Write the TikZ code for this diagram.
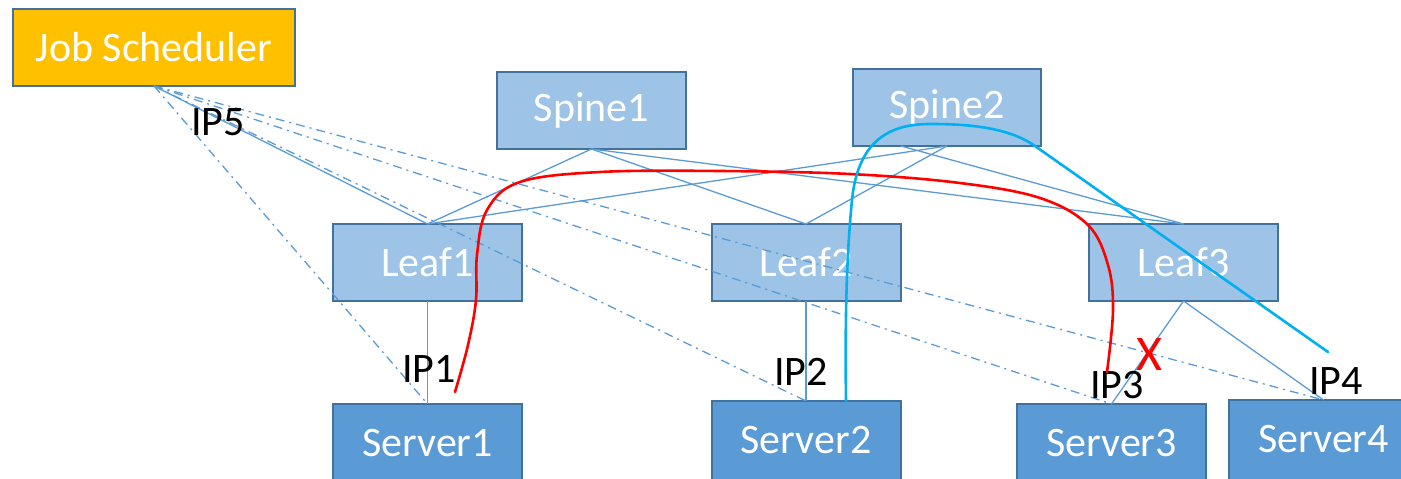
\documentclass[tikz,border=0pt]{standalone}
\usepackage{fontspec}
\setmainfont{Carlito}
\definecolor{jobfill}{HTML}{FFC000}
\definecolor{boxedge}{HTML}{41719C}
\definecolor{switchfill}{HTML}{9DC3E6}
\definecolor{serverfill}{HTML}{5B9BD5}
\definecolor{linkblue}{HTML}{5B9BD5}
\definecolor{pathcyan}{HTML}{00B0F0}
\definecolor{pathred}{HTML}{FF0000}
\begin{document}
\begin{tikzpicture}[x=1pt, y=-1pt,
  box/.style={draw=boxedge, line width=2pt, inner sep=0pt, outer sep=0pt,
    minimum width=189pt, minimum height=77pt, text=white,
    font=\fontsize{42}{50}\selectfont},
  jobbox/.style={box, fill=jobfill, minimum width=282pt},
  switchbox/.style={box, fill=switchfill},
  serverbox/.style={box, fill=serverfill, minimum height=86pt,
    text depth=9pt},
  link/.style={draw=linkblue, line width=1.3pt},
  ctrl/.style={draw=linkblue, line width=1.3pt,
    dash pattern=on 9pt off 5pt on 2pt off 5pt},
  iplabel/.style={inner sep=0pt, font=\fontsize{42}{50}\selectfont},
  flow/.style={line width=2.6pt, line cap=round}]
\useasboundingbox (0,0) rectangle (1401,479);
\clip (0,0) rectangle (1401,479);

% devices (server boxes run past the lower edge)
\node[jobbox]    (js)  at (154,47.5)   {Job Scheduler};
\node[switchbox] (sp1) at (591.5,110.5) {Spine1};
\node[switchbox, minimum width=188pt] (sp2) at (947,107.5) {Spine2};
\node[switchbox] (lf1) at (427.5,262.5) {Leaf1};
\node[switchbox] (lf2) at (806,262.5)   {Leaf2};
\node[switchbox] (lf3) at (1183.5,262.5) {Leaf3};
\node[serverbox] (sv1) at (427.5,447) {Server1};
\node[serverbox] (sv2) at (806,444)   {Server2};
\node[serverbox] (sv3) at (1111.5,447) {Server3};
\node[serverbox] (sv4) at (1323.5,443) {Server4};

% spine-leaf fabric
\draw[link] (sp1.south) -- (lf1.north);
\draw[link] (sp1.south) -- (lf2.north);
\draw[link] (sp1.south) -- (lf3.north);
\draw[link] (sp2.south) -- (lf1.north);
\draw[link] (sp2.south) -- (lf2.north);
\draw[link] ([xshift=-46pt]sp2.south) -- (lf3.north);

% leaf-server links
\draw[link] (lf1.south) -- (sv1.north);
\draw[link] (lf2.south) -- (sv2.north);
\draw[link] (lf3.south) -- (sv3.north);
\draw[link] (lf3.south) -- (sv4.north);

% scheduler links
\draw[link] (js.south) -- (lf1.north);
\draw[ctrl] (js.south) -- (sv1.north);
\draw[ctrl] (js.south) -- (sv2.north);
\draw[ctrl] (js.south) -- (sv3.north);
\draw[ctrl] (js.south) -- (sv4.north);

% addresses
\node[iplabel] (ip5) at (218,122) {IP5};
\node[iplabel] (ip1) at (429,369) {IP1};
\node[iplabel] (ip2) at (801,372) {IP2};
\node[iplabel] (ip3) at (1117,385) {IP3};
\node[iplabel] (ip4) at (1336,381) {IP4};

% failed path from Server1 towards Server3
\coordinate (redstart) at (455,392);
\coordinate (redend) at (1107,372);
\draw[flow, pathred] plot[smooth, tension=0.6] coordinates {
  (455,392) (468,345) (476,300) (477,255) (487,210) (520,182) (600,172)
  (720,171) (850,174) (960,183) (1040,198) (1088,225) (1108,265)
  (1113,310) (1107,372)};
\node[inner sep=0pt, text=pathred, font=\fontsize{50}{60}\selectfont]
  (fail) at (1149,354) {X};

% rerouted path from Server2 via Spine2
\coordinate (cyanstart) at ([xshift=40pt]sv2.north);
\coordinate (cyanend) at (1328,352);
\draw[flow, pathcyan] (cyanstart)
  .. controls (845,330) and (846,260) .. (852,200)
  .. controls (858,140) and (890,124) .. (930,124)
  .. controls (965,124) and (1007,126.4) .. (1035,146)
  -- (cyanend);
\end{tikzpicture}
\end{document}
